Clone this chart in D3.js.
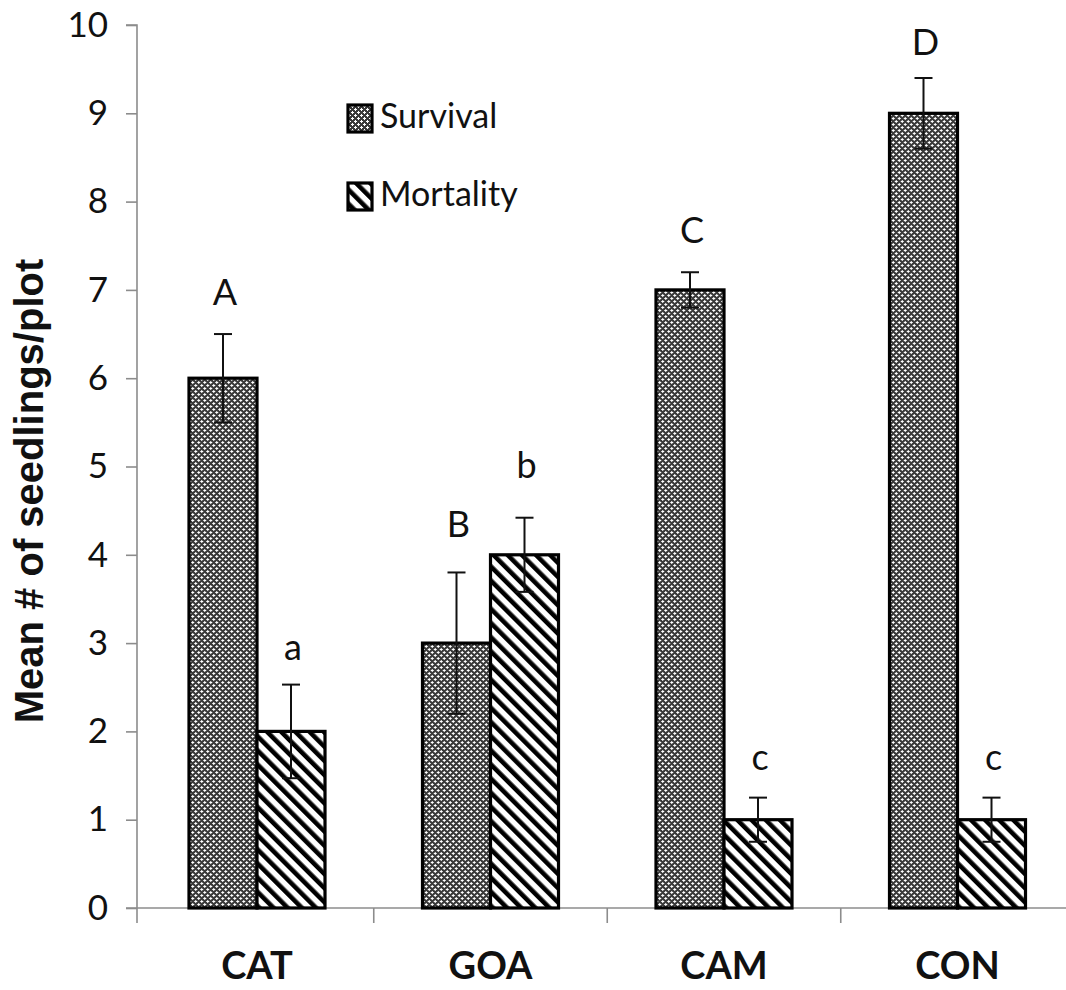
<!DOCTYPE html>
<html>
<head>
<meta charset="utf-8">
<script src="https://cdn.jsdelivr.net/npm/d3@7"></script>
<style>
  html, body { margin: 0; padding: 0; background: #fff; }
  svg { display: block; }
</style>
</head>
<body>
<svg id="chart" width="1066" height="990"></svg>
<script>
// ---- data ----
const categories = ["CAT", "GOA", "CAM", "CON"];
const seriesNames = ["Survival", "Mortality"];
const survival = [6, 3, 7, 9];
const survivalErr = [0.5, 0.8, 0.2, 0.4];
const mortality = [2, 4, 1, 1];
const mortalityErr = [0.53, 0.42, 0.25, 0.25];
const survivalLetters = ["A", "B", "C", "D"];
const mortalityLetters = ["a", "b", "c", "c"];
// letter label heights in data units
const survivalLetterY = [6.83, 4.2, 7.53, 9.66];
const mortalityLetterY = [2.81, 4.87, 1.56, 1.56];
const yTicks = [0, 1, 2, 3, 4, 5, 6, 7, 8, 9, 10];
const yTitle = "Mean # of seedlings/plot";

// ---- layout ----
const svg = d3.select("#chart");
const axisColor = "#8c8c8c";
const y = d3.scaleLinear().domain([0, 10]).range([908, 25]);
const x0 = d3.scaleBand().domain(categories).range([140.25, 1074.25]).padding(0);
const bw = x0.bandwidth();
const barW = 68;
const x1 = d3.scaleBand().domain(seriesNames).range([bw / 2 - barW, bw / 2 + barW]).padding(0);

// ---- patterns ----
const defs = svg.append("defs");
const pat1 = defs.append("pattern").attr("id", "dots").attr("patternUnits", "userSpaceOnUse")
  .attr("width", 6).attr("height", 6);
pat1.append("rect").attr("width", 6).attr("height", 6).attr("fill", "#3a3a3a");
[[1.5, 1.5], [4.5, 4.5]].forEach(([cx, cy]) => {
  pat1.append("rect").attr("x", cx - 1.5).attr("y", cy - 0.5).attr("width", 3).attr("height", 1).attr("fill", "#fff");
  pat1.append("rect").attr("x", cx - 0.5).attr("y", cy - 1.5).attr("width", 1).attr("height", 3).attr("fill", "#fff");
});
const pat2 = defs.append("pattern").attr("id", "stripes").attr("patternUnits", "userSpaceOnUse")
  .attr("width", 10).attr("height", 10).attr("patternTransform", "rotate(-45)");
pat2.append("rect").attr("width", 10).attr("height", 10).attr("fill", "#fff");
pat2.append("rect").attr("x", 0).attr("y", 0).attr("width", 4.6).attr("height", 10).attr("fill", "#000");

const fills = { "Survival": "url(#dots)", "Mortality": "url(#stripes)" };

// ---- axes ----
const yAxis = d3.axisLeft(y).tickValues(yTicks).tickSize(11).tickPadding(12).tickFormat(d3.format("d"));
const gy = svg.append("g").attr("transform", "translate(137,0)").call(yAxis);
gy.select(".domain").attr("stroke", axisColor).attr("stroke-width", 1.6).attr("d", `M-11,${y(10)}H0V${y(0)}`);
gy.selectAll(".tick line").attr("stroke", axisColor).attr("stroke-width", 1.6);
gy.selectAll(".tick text").attr("font-family", "Lato, 'Open Sans', sans-serif").attr("font-size", 35)
  .attr("fill", "#111").attr("dx", -6);

const xAxisG = svg.append("g");
xAxisG.append("line").attr("x1", 126).attr("x2", 1066).attr("y1", y(0)).attr("y2", y(0))
  .attr("stroke", axisColor).attr("stroke-width", 1.6);
const boundaries = categories.map(c => x0(c)).concat([x0(categories[categories.length - 1]) + bw]);
xAxisG.selectAll("line.xt").data(boundaries.map((b, i) => i === 0 ? 137 : b)).join("line")
  .attr("class", "xt").attr("x1", d => d).attr("x2", d => d)
  .attr("y1", y(0)).attr("y2", y(0) + 15).attr("stroke", axisColor).attr("stroke-width", 1.6);
xAxisG.selectAll("text.cat").data(categories).join("text").attr("class", "cat")
  .attr("x", d => x0(d) + bw / 2).attr("y", 979).attr("text-anchor", "middle")
  .attr("font-family", "Lato, 'Open Sans', sans-serif").attr("font-weight", "bold").attr("font-size", 38)
  .attr("fill", "#111").text(d => d);

// ---- bars ----
const rows = categories.map((c, i) => ({
  cat: c,
  items: [
    { s: "Survival", v: survival[i], e: survivalErr[i], lab: survivalLetters[i], ly: survivalLetterY[i] },
    { s: "Mortality", v: mortality[i], e: mortalityErr[i], lab: mortalityLetters[i], ly: mortalityLetterY[i] }
  ]
}));
const groups = svg.append("g").selectAll("g").data(rows).join("g")
  .attr("transform", d => `translate(${x0(d.cat)},0)`);
groups.selectAll("rect").data(d => d.items).join("rect")
  .attr("x", d => x1(d.s)).attr("width", x1.bandwidth())
  .attr("y", d => y(d.v)).attr("height", d => y(0) - y(d.v))
  .attr("fill", d => fills[d.s]).attr("stroke", "#000").attr("stroke-width", 3.2);

// error bars
const capW = 9;
groups.each(function (d) {
  const g = d3.select(this);
  d.items.forEach(it => {
    const cx = x1(it.s) + x1.bandwidth() / 2;
    const eg = g.append("g").attr("stroke", "#111").attr("stroke-width", 2);
    eg.append("line").attr("x1", cx).attr("x2", cx).attr("y1", y(it.v + it.e)).attr("y2", y(it.v - it.e));
    eg.append("line").attr("x1", cx - capW).attr("x2", cx + capW).attr("y1", y(it.v + it.e)).attr("y2", y(it.v + it.e));
    eg.append("line").attr("x1", cx - capW).attr("x2", cx + capW).attr("y1", y(it.v - it.e)).attr("y2", y(it.v - it.e));
    g.append("text").attr("x", cx + 2).attr("y", y(it.ly)).attr("text-anchor", "middle")
      .attr("font-family", "Lato, 'Open Sans', sans-serif").attr("font-size", 36).attr("fill", "#111")
      .text(it.lab);
  });
});

// ---- legend ----
const legend = svg.append("g");
const legendRows = seriesNames.map((s, i) => ({ s, top: i === 0 ? 105 : 183 }));
legend.selectAll("rect").data(legendRows).join("rect")
  .attr("x", 348).attr("y", d => d.top).attr("width", 24).attr("height", 27)
  .attr("fill", d => fills[d.s]).attr("stroke", "#000").attr("stroke-width", 3.2);
legend.selectAll("text").data(legendRows).join("text")
  .attr("x", 380).attr("y", d => d.top + 23)
  .attr("font-family", "Lato, 'Open Sans', sans-serif").attr("font-size", 34).attr("fill", "#111")
  .text(d => d.s);

// ---- y title ----
svg.append("text").attr("transform", "translate(43,491) rotate(-90)")
  .attr("text-anchor", "middle").attr("font-family", "'Liberation Sans', Arial, sans-serif")
  .attr("font-weight", "bold").attr("font-size", 40).attr("fill", "#111").text(yTitle);
</script>
</body>
</html>
